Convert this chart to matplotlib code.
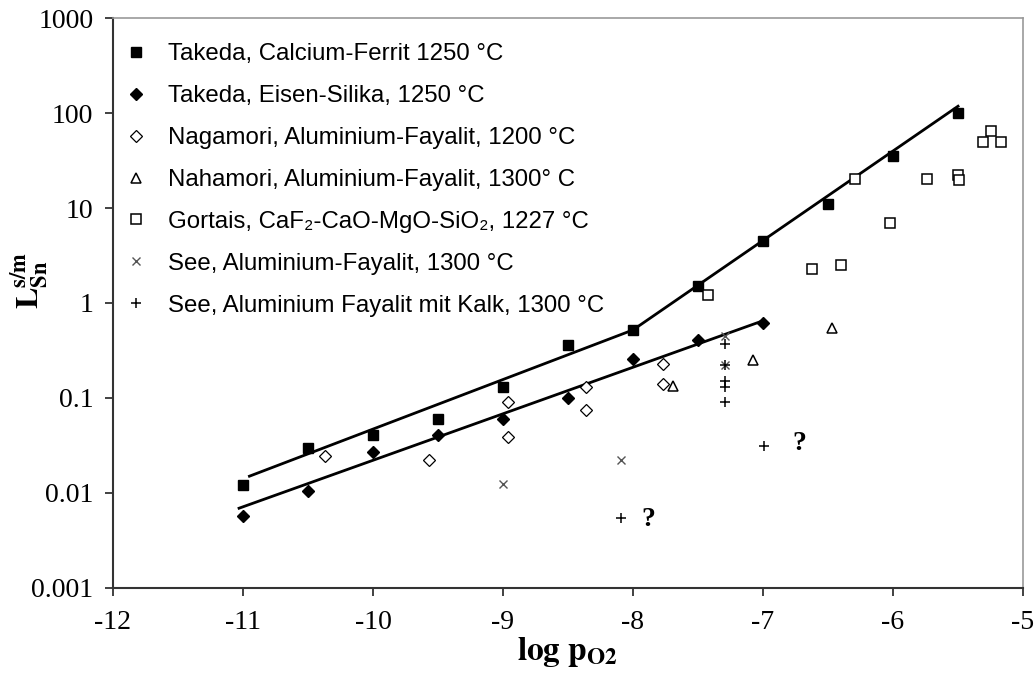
import matplotlib
matplotlib.use("Agg")
import matplotlib.pyplot as plt
from matplotlib.lines import Line2D
from matplotlib.ticker import FixedLocator, FuncFormatter

plt.rcParams["axes.unicode_minus"] = False
plt.rcParams["mathtext.fontset"] = "stix"

# ── data ─────────────────────────────────────────────────────────────────────
takeda_cf_x = [-11, -10.5, -10, -9.5, -9, -8.5, -8, -7.5, -7, -6.5, -6, -5.5]
takeda_cf_y = [0.012, 0.030, 0.041, 0.060, 0.13, 0.36, 0.52, 1.5, 4.5, 11, 35, 100]

takeda_es_x = [-11, -10.5, -10, -9.5, -9, -8.5, -8, -7.5, -7]
takeda_es_y = [0.0057, 0.0104, 0.027, 0.041, 0.060, 0.10, 0.26, 0.41, 0.61]

nagamori_x = [-10.37, -9.57, -8.96, -8.96, -8.36, -8.36, -7.77, -7.77]
nagamori_y = [0.0245, 0.022, 0.091, 0.039, 0.13, 0.075, 0.23, 0.14]

nahamori_x = [-7.69, -7.08, -6.47]
nahamori_y = [0.135, 0.25, 0.55]

gortais_x = [-7.42, -6.62, -6.40, -6.02, -6.29, -5.74, -5.50, -5.49, -5.31, -5.25, -5.17]
gortais_y = [1.2, 2.3, 2.5, 7.0, 20, 20, 22, 19.5, 50, 65, 50]

see_x = [-9.0, -8.09, -7.29, -7.29]
see_y = [0.0125, 0.022, 0.22, 0.45]

see_kalk_x = [-7.29, -7.29, -7.29, -7.29, -7.29, -6.99, -8.09]
see_kalk_y = [0.37, 0.22, 0.15, 0.13, 0.09, 0.031, 0.0054]

# trend lines (end/break points)
upper_line_x = [-10.95, -8.0, -5.5]
upper_line_y = [0.015, 0.52, 118]
lower_line_x = [-11.03, -7.0]
lower_line_y = [0.0069, 0.65]

question_x = [-7.88, -6.72]
question_y = [0.0052, 0.033]

y_ticks = [0.001, 0.01, 0.1, 1, 10, 100, 1000]
x_ticks = [-12, -11, -10, -9, -8, -7, -6, -5]

labels = [
    "Takeda, Calcium-Ferrit 1250 °C",
    "Takeda, Eisen-Silika, 1250 °C",
    "Nagamori, Aluminium-Fayalit, 1200 °C",
    "Nahamori, Aluminium-Fayalit, 1300° C",
    "Gortais, CaF\u2082-CaO-MgO-SiO\u2082, 1227 °C",
    "See, Aluminium-Fayalit, 1300 °C",
    "See, Aluminium Fayalit mit Kalk, 1300 °C",
]


def fmt_y(v, pos):
    if v >= 1:
        return f"{int(v)}"
    return f"{v:g}"


fig = plt.figure(figsize=(10.36, 6.82), dpi=100)
ax = fig.add_axes([0.109, 0.138, 0.8785, 0.8355])

ax.plot(upper_line_x, upper_line_y, color="black", lw=2.0, zorder=2)
ax.plot(lower_line_x, lower_line_y, color="black", lw=2.0, zorder=2)

styles = [
    dict(marker="s", ms=7.5, mfc="black", mec="black", mew=1.0),
    dict(marker="D", ms=6.3, mfc="black", mec="black", mew=1.0),
    dict(marker="D", ms=5.8, mfc="white", mec="black", mew=0.9),
    dict(marker="^", ms=7.5, mfc="white", mec="black", mew=1.1),
    dict(marker="s", ms=6.5, mfc="white", mec="black", mew=1.1),
    dict(marker="x", ms=6, mfc="none", mec="#555555", mew=1.0),
    dict(marker="+", ms=7.5, mfc="none", mec="black", mew=1.1),
]
series = [
    (takeda_cf_x, takeda_cf_y),
    (takeda_es_x, takeda_es_y),
    (nagamori_x, nagamori_y),
    (nahamori_x, nahamori_y),
    (gortais_x, gortais_y),
    (see_x, see_y),
    (see_kalk_x, see_kalk_y),
]

handles = []
for (xs, ys), st, lab in zip(series, styles, labels):
    ax.plot(xs, ys, ls="none", zorder=3, **st)
    handles.append(Line2D([], [], ls="none", label=lab, **st))

for qx, qy in zip(question_x, question_y):
    ax.text(qx, qy, "?", fontsize=20, fontweight="bold", family="Liberation Serif",
            ha="center", va="center")

ax.set_yscale("log")
ax.set_xlim(-12, -5)
ax.set_ylim(0.001, 1000)
ax.xaxis.set_major_locator(FixedLocator(x_ticks))
ax.yaxis.set_major_locator(FixedLocator(y_ticks))
ax.yaxis.set_minor_locator(FixedLocator([]))
ax.yaxis.set_major_formatter(FuncFormatter(fmt_y))

for lab in ax.get_xticklabels() + ax.get_yticklabels():
    lab.set_family("Liberation Serif")
    lab.set_fontsize(20)
ax.tick_params(axis="both", direction="out", length=6, width=1.3, color="#333333")
ax.tick_params(axis="x", pad=10)
ax.tick_params(axis="y", pad=8)

for side in ["left", "bottom"]:
    ax.spines[side].set_color("#333333")
    ax.spines[side].set_linewidth(1.5)
for side in ["top", "right"]:
    ax.spines[side].set_color("#999999")
    ax.spines[side].set_linewidth(1.2)

ax.set_xlabel(r"$\mathbf{log\ p_{O2}}$", fontsize=24, labelpad=0)
ax.set_ylabel(r"$\mathbf{L_{Sn}^{s/m}}$", fontsize=23)
ax.yaxis.set_label_coords(-0.069, 0.54)

leg = ax.legend(handles=handles, loc="upper left", bbox_to_anchor=(0.0, 0.975),
                frameon=False, handlelength=1.0, handletextpad=0.83,
                labelspacing=0.83, borderaxespad=0.25, borderpad=0.2,
                prop={"family": ["Liberation Sans", "DejaVu Sans"], "size": 17.3})

fig.savefig("out.png", dpi=100, facecolor="white")
